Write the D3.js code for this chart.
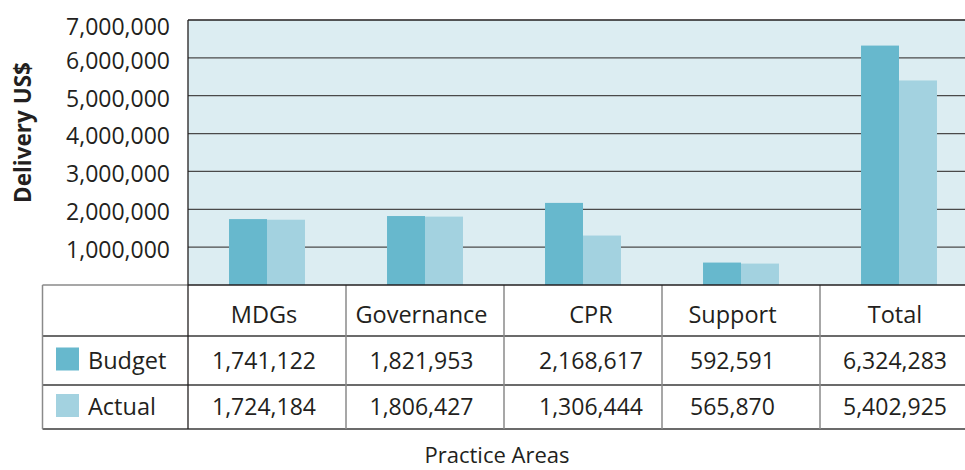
<!DOCTYPE html>
<html>
<head>
<meta charset="utf-8">
<script src="https://cdn.jsdelivr.net/npm/d3@7"></script>
<style>
  body { margin: 0; background: #fff; }
  text { font-family: "Open Sans", sans-serif; fill: #231f20; }
</style>
</head>
<body>
<div id="chart"></div>
<script>
// data
const categories = ["MDGs", "Governance", "CPR", "Support", "Total"];
const seriesNames = ["Budget", "Actual"];
const budget = [1741122, 1821953, 2168617, 592591, 6324283];
const actual = [1724184, 1806427, 1306444, 565870, 5402925];
const yTicks = [1000000, 2000000, 3000000, 4000000, 5000000, 6000000, 7000000];

const colors = { Budget: "#67b8cd", Actual: "#a3d2e0" };

var W = 965, H = 470;
var plot = {left: 188, right: 978, top: 20, bottom: 285};
var rows = [285, 336, 385, 429]; // table row edges
var tableLeft = 42.5;

var svg = d3.select("#chart").append("svg")
    .attr("width", W)
    .attr("height", H);

var x = d3.scaleBand()
    .domain(categories)
    .range([plot.left, plot.right])
    .padding(0);

var x1 = d3.scaleBand()
    .domain(seriesNames)
    .range([0, x.bandwidth()])
    .paddingInner(0)
    .paddingOuter(1.08);

var y = d3.scaleLinear()
    .domain([0, 7000000])
    .range([plot.bottom, plot.top]);

var fmt = d3.format(",");

// plot background
svg.append("rect")
    .attr("x", plot.left)
    .attr("y", plot.top)
    .attr("width", plot.right - plot.left)
    .attr("height", plot.bottom - plot.top)
    .style("fill", "#dcedf2");

// gridlines
svg.selectAll("line.grid")
    .data(yTicks)
    .enter().append("line")
    .attr("class", "grid")
    .attr("x1", plot.left)
    .attr("x2", plot.right)
    .attr("y1", d => y(d))
    .attr("y2", d => y(d))
    .style("stroke", d => d === 7000000 ? "#231f20" : "#4a4a4a")
    .style("stroke-width", 1.3);

// bars
var rowsData = categories.map((c, i) => ({cat: c, Budget: budget[i], Actual: actual[i]}));

var groups = svg.selectAll("g.grp")
    .data(rowsData)
    .enter().append("g")
    .attr("class", "grp")
    .attr("transform", d => "translate(" + x(d.cat) + ",0)");

groups.selectAll("rect")
    .data(d => seriesNames.map(s => ({key: s, value: d[s]})))
    .enter().append("rect")
    .attr("x", d => x1(d.key))
    .attr("width", x1.bandwidth())
    .attr("y", d => y(d.value))
    .attr("height", d => y(0) - y(d.value))
    .style("fill", d => colors[d.key]);

// y axis labels
var yAxis = d3.axisLeft(y)
    .tickValues(yTicks)
    .tickSize(0)
    .tickPadding(18)
    .tickFormat(fmt);

svg.append("g")
    .attr("class", "y axis")
    .attr("transform", "translate(" + plot.left + ",3)")
    .call(yAxis)
    .call(g => g.select(".domain").remove())
    .selectAll("text")
    .style("font-size", "23px")
    .style("fill", "#231f20");

svg.select(".y.axis .tick:last-of-type text").attr("dy", "0.5em");

svg.append("text")
    .attr("transform", "translate(31," + ((plot.top + plot.bottom) / 2 - 20) + ") rotate(-90)")
    .style("text-anchor", "middle")
    .style("font-size", "22.5px")
    .style("font-weight", "bold")
    .text("Delivery US$");

// ---- table ----
// horizontal row lines
svg.append("line")
    .attr("x1", tableLeft).attr("x2", plot.left)
    .attr("y1", rows[0]).attr("y2", rows[0])
    .style("stroke", "#8a8a8a").style("stroke-width", 1.5);

svg.selectAll("line.hrow")
    .data(rows.slice(1))
    .enter().append("line")
    .attr("class", "hrow")
    .attr("x1", tableLeft).attr("x2", plot.right)
    .attr("y1", d => d).attr("y2", d => d)
    .style("stroke", "#3a3a3a")
    .style("stroke-width", 1.5);

// vertical column lines
svg.selectAll("line.vcol")
    .data(categories.slice(1))
    .enter().append("line")
    .attr("class", "vcol")
    .attr("x1", d => x(d)).attr("x2", d => x(d))
    .attr("y1", rows[0]).attr("y2", rows[3])
    .style("stroke", "#8a8a8a")
    .style("stroke-width", 1.5);

svg.append("line")
    .attr("x1", tableLeft).attr("x2", tableLeft)
    .attr("y1", rows[0]).attr("y2", rows[3])
    .style("stroke", "#8a8a8a").style("stroke-width", 1.5);

// plot frame: left edge down through table, bottom axis
svg.append("line")
    .attr("x1", plot.left).attr("x2", plot.left)
    .attr("y1", plot.top).attr("y2", rows[3])
    .style("stroke", "#231f20").style("stroke-width", 1.3);

svg.append("line")
    .attr("x1", plot.left).attr("x2", plot.right)
    .attr("y1", plot.bottom).attr("y2", plot.bottom)
    .style("stroke", "#231f20").style("stroke-width", 1.5);

// header cells (category names)
var colNudge = [-3, -3.5, 8, -8.5, -4];

svg.selectAll("text.head")
    .data(categories)
    .enter().append("text")
    .attr("class", "head")
    .attr("x", (d, i) => x(d) + x.bandwidth() / 2 + colNudge[i])
    .attr("y", (rows[0] + rows[1]) / 2 + 12)
    .style("text-anchor", "middle")
    .style("font-size", "23.5px")
    .text(d => d);

var tableRows = [
    {name: "Budget", values: budget, y: (rows[1] + rows[2]) / 2 + 6},
    {name: "Actual", values: actual, y: (rows[2] + rows[3]) / 2 + 6}
];

tableRows.forEach(function(r) {
    svg.selectAll("text.val-" + r.name)
        .data(r.values)
        .enter().append("text")
        .attr("class", "val-" + r.name)
        .attr("x", (d, i) => x(categories[i]) + x.bandwidth() / 2 + colNudge[i])
        .attr("y", r.y + 2)
        .style("text-anchor", "middle")
        .style("font-size", "23px")
        .text(d => fmt(d));

    // legend swatch + name
    svg.append("rect")
        .attr("x", 56)
        .attr("y", r.y - 19)
        .attr("width", 23)
        .attr("height", 23)
        .style("fill", colors[r.name]);

    svg.append("text")
        .attr("x", 88)
        .attr("y", r.y + 2)
        .style("font-size", "23.5px")
        .text(r.name);
});

// x axis title
svg.append("text")
    .attr("x", 497)
    .attr("y", 463)
    .style("text-anchor", "middle")
    .style("font-size", "22px")
    .text("Practice Areas");
</script>
</body>
</html>
